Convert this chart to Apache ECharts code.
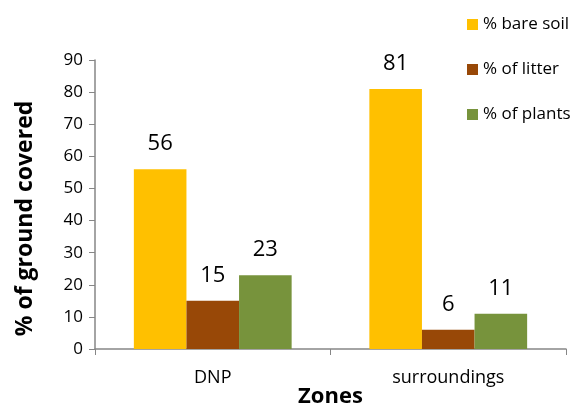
<!DOCTYPE html>
<html lang="en">
<head>
    <meta charset="UTF-8">
    <title>ground covered</title>
    <style>
        html, body { margin: 0; padding: 0; background: #fff; }
    </style>
</head>
<body>
    <script src="https://cdn.jsdelivr.net/npm/echarts@6/dist/echarts.min.js"></script>
    <div id="main" style="width: 577px;height:405px;"></div>
    <script>
        // data
        var zones = ['DNP', 'surroundings'];
        var bareSoil = [56, 81];
        var litter = [15, 6];
        var plants = [23, 11];
        var seriesNames = ['% bare soil', '% of litter', '% of plants'];
        var colors = ['#FFC000', '#984807', '#77933C'];

        var font = '"Open Sans", Lato, sans-serif';
        var axisGray = '#868686';

        function makeSeries(name, values, color) {
            return {
                name: name,
                type: 'bar',
                data: values,
                barGap: '0%',
                barCategoryGap: '33%',
                itemStyle: { color: color },
                label: {
                    show: true,
                    position: 'top',
                    distance: 14,
                    color: '#000',
                    fontSize: 22,
                    fontFamily: font
                }
            };
        }

        var myChart = echarts.init(document.getElementById('main'));
        var option = {
            animation: false,
            textStyle: { fontFamily: font },
            legend: {
                orient: 'vertical',
                left: 462,
                top: 11,
                itemWidth: 11,
                itemHeight: 11,
                itemGap: 28,
                icon: 'rect',
                data: seriesNames,
                textStyle: { fontSize: 17, color: '#000', fontFamily: font }
            },
            grid: { left: 95, right: 11, top: 60, bottom: 56, outerBoundsMode: 'none', containLabel: false },
            xAxis: {
                type: 'category',
                data: zones,
                name: 'Zones',
                nameLocation: 'middle',
                nameGap: 37,
                nameMoveOverlap: false,
                nameTextStyle: { fontSize: 22, fontWeight: 'bold', color: '#000' },
                axisLine: { lineStyle: { color: axisGray, width: 1.5 } },
                axisTick: { show: true, length: 6, alignWithLabel: false, lineStyle: { color: axisGray } },
                axisLabel: { fontSize: 18, color: '#000', margin: 20 }
            },
            yAxis: {
                type: 'value',
                min: 0,
                max: 90,
                interval: 10,
                name: '% of ground covered',
                nameLocation: 'middle',
                nameGap: 58,
                nameMoveOverlap: false,
                nameTextStyle: { fontSize: 23, fontWeight: 'bold', color: '#000', padding: [0, 28, 0, 0] },
                splitLine: { show: false },
                axisLine: { show: true, lineStyle: { color: axisGray, width: 1.5 } },
                axisTick: { show: true, length: 6, lineStyle: { color: axisGray } },
                axisLabel: { fontSize: 17, color: '#000', margin: 12 }
            },
            series: [
                makeSeries(seriesNames[0], bareSoil, colors[0]),
                makeSeries(seriesNames[1], litter, colors[1]),
                makeSeries(seriesNames[2], plants, colors[2])
            ]
        };
        myChart.setOption(option);
    </script>
</body>
</html>
